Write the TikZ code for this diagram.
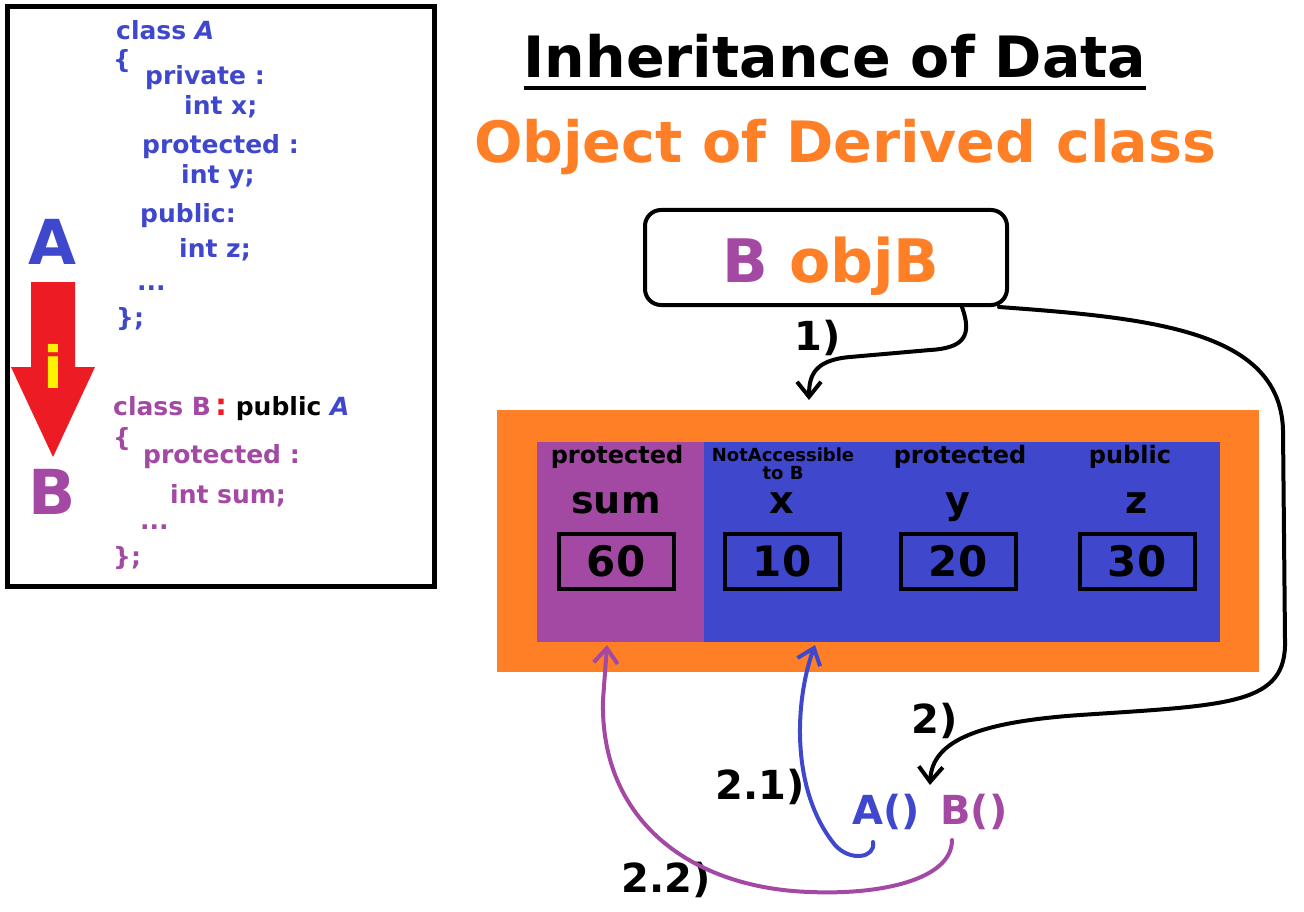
\documentclass[tikz,border=0pt]{standalone}
\usepackage{fontspec}
\setmainfont{DejaVu Sans}
\usetikzlibrary{arrows.meta,calc,positioning}

\definecolor{clsA}{HTML}{3F48CC}
\definecolor{clsB}{HTML}{A349A4}
\definecolor{objorange}{HTML}{FF7F27}
\definecolor{inhred}{HTML}{ED1C24}
\definecolor{inhyellow}{HTML}{FFF200}
\newcommand{\fsz}[1]{\fontsize{#1}{#1}\selectfont\bfseries}

\tikzset{
  codetxt/.style={anchor=base west,inner sep=0pt,font=\fsz{25}},
  memlbl/.style={anchor=base,inner sep=0pt,font=\fsz{24}},
  memvar/.style={anchor=base,inner sep=0pt,font=\fsz{38}},
  valbox/.style={draw=black,line width=4pt,minimum width=115pt,minimum height=55pt,inner sep=0pt,font=\fsz{42}},
  steplbl/.style={inner sep=0pt,font=\fsz{40}},
  callarr/.style={line width=4pt,line cap=round,-{Straight Barb[length=15pt,width=24pt]}},
}

\begin{document}
\begin{tikzpicture}[x=1pt,y=-1pt]
\useasboundingbox (0,0) rectangle (1304,912);

% left panel: the two classes
\draw[line width=5pt] (7.5,6.5) rectangle (434.5,586.5);
\node[codetxt,clsA] (cA1) at (116,40) {class \textit{A}};
\node[codetxt,clsA] (cA2) at (113,69) {\{};
\node[codetxt,clsA] (cA3) at (145,85) {private :};
\node[codetxt,clsA] (cA4) at (184,115) {int x;};
\node[codetxt,clsA] (cA5) at (142,154) {protected :};
\node[codetxt,clsA] (cA6) at (181,184) {int y;};
\node[codetxt,clsA] (cA7) at (140,223) {public:};
\node[codetxt,clsA] (cA8) at (179,258) {int z;};
\node[codetxt,clsA] (cA9) at (137,290) {...};
\node[codetxt,clsA] (cA10) at (116,326) {\};};
\node[codetxt,clsB] (cB1) at (113,415) {class B\,\textcolor{inhred}{\fsz{30}:} \textcolor{black}{public} \textcolor{clsA}{\textit{A}}};
\node[codetxt,clsB] (cB2) at (113,446) {\{};
\node[codetxt,clsB] (cB3) at (143,463) {protected :};
\node[codetxt,clsB] (cB4) at (170,503) {int sum;};
\node[codetxt,clsB] (cB5) at (140,529) {...};
\node[codetxt,clsB] (cB6) at (113,565) {\};};

% inheritance arrow A -> B
\node[inner sep=0pt,font=\fsz{62},clsA] (bigA) at (52,242) {A};
\node[inner sep=0pt,font=\fsz{62},clsB] (bigB) at (52,492) {B};
\fill[inhred] (31,282) -- (75,282) -- (75,367) -- (95,367) -- (53,457) -- (11,367) -- (31,367) -- cycle;
\node[inner sep=0pt,font=\fsz{58},inhyellow] (inh) at (53,366) {i};

% titles
\node[anchor=base,inner sep=0pt,font=\fsz{57}] (title) at (835,78) {Inheritance of Data};
\draw[line width=4pt] ([yshift=-10pt]title.base west) -- ([yshift=-10pt]title.base east);
\node[anchor=base,inner sep=0pt,font=\fsz{57},objorange] (objtitle) at (845,163) {Object of Derived class};

% the object
\node[draw,line width=4pt,rounded corners=16pt,minimum width=362pt,minimum height=95pt] (objB) at (826,257.5) {};
\node[anchor=base,inner sep=0pt,font=\fsz{60}] (objBtxt) at (831,282) {\textcolor{clsB}{B} \textcolor{objorange}{objB}};

% memory of objB
\node[fill=objorange,minimum width=762pt,minimum height=262pt,inner sep=0pt] (mem) at (878,541) {};
\fill[clsB] (537,442) rectangle (704,642);
\fill[clsA] (704,442) rectangle (1220,642);
\node[memlbl] (lbl1) at (617,463) {protected};
\node[memlbl,font=\fsz{18}] (lbl2) at (783,461) {NotAccessible};
\node[memlbl,font=\fsz{18}] (lbl2b) at (783,479) {to B};
\node[memlbl] (lbl3) at (960,463) {protected};
\node[memlbl] (lbl4) at (1130,463) {public};
\foreach \cx/\var/\val [count=\i] in {616/sum/60, 782/x/10, 958/y/20, 1137/z/30}{
  \node[memvar] (var\i) at (\cx,513) {\var};
  \node[valbox] (val\i) at (\cx,561) {\val};
}
\coordinate (memtop) at (809,400);
\coordinate (memA) at (815,645);
\coordinate (memB) at (607,645);

% constructors
\node[inner sep=0pt,font=\fsz{40},clsA] (ctorA) at (886,812) {A()};
\node[inner sep=0pt,font=\fsz{40},clsB] (ctorB) at (974,812) {B()};
\coordinate (ctorin) at (930,785);

% steps
\node[steplbl] (s1) at (818,338) {1)};
\node[steplbl] (s2) at (935,721) {2)};
\node[steplbl] (s21) at (760,787) {2.1)};
\node[steplbl] (s22) at (666,880) {2.2)};

\draw[callarr] ([xshift=136pt]objB.south) .. controls (972,335) and (965,348) .. (930,350) -- (850,357) .. controls (815,360) and (809,375) .. (memtop);
\draw[callarr] ([xshift=-10pt]objB.south east) .. controls (1150,318) and (1280,330) .. (1283,430) -- (1285,640) .. controls (1287,705) and (1230,705) .. (1080,715) .. controls (980,722) and (932,740) .. (ctorin);
\draw[callarr,clsA] ([shift={(-13pt,-12pt)}]ctorA.south) .. controls (876,858) and (850,862) .. (835,845) .. controls (790,790) and (795,700) .. (memA);
\draw[callarr,clsB] ([shift={(-22pt,-10pt)}]ctorB.south) .. controls (952,880) and (880,895) .. (810,892) .. controls (690,888) and (600,820) .. (603,700) -- (memB);
\end{tikzpicture}
\end{document}
